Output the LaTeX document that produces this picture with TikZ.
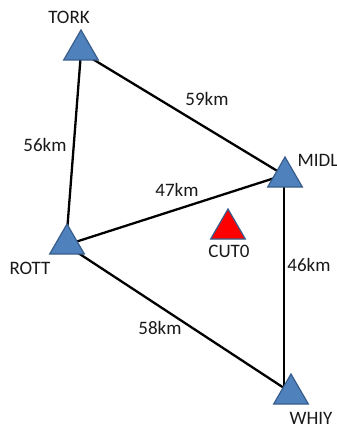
\documentclass[tikz,border=0pt]{standalone}
\usepackage{fontspec}
\setmainfont{Carlito}
\usetikzlibrary{shapes.geometric,backgrounds}
\definecolor{stnfill}{HTML}{4F81BD}
\definecolor{stnedge}{HTML}{385D8A}
\tikzset{
  station/.style={regular polygon, regular polygon sides=3, minimum size=40pt,
    inner sep=0pt, fill=stnfill, draw=stnedge, line width=1.2pt},
  target/.style={station, fill=red},
  baseline/.style={line width=2.3pt, black},
  lbl/.style={font=\fontsize{19}{21}\selectfont, inner sep=0pt, text=black!90}
}
\begin{document}
\begin{tikzpicture}[x=1pt, y=-1pt]
  \useasboundingbox (0,0) rectangle (337,428);
  % stations
  \node[station] (TORK) at (81,50) {};
  \node[station] (ROTT) at (67,244) {};
  \node[station] (MIDL) at (285,177) {};
  \node[station] (WHIY) at (291,394) {};
  \node[target]  (CUT0) at (228,229) {};
  % where the baselines meet each station
  \coordinate (tk) at ([shift={(0,2)}]TORK.center);
  \coordinate (rt) at ([shift={(-1,1)}]ROTT.center);
  \coordinate (md) at ([shift={(-1,-2)}]MIDL.center);
  \coordinate (wh) at ([shift={(-7,-6)}]WHIY.center);
  % baselines
  \begin{scope}[on background layer]
    \draw[baseline] (tk) -- (rt);
    \draw[baseline] (tk) -- (md);
    \draw[baseline] (rt) -- (md);
    \draw[baseline] (md) -- (wh);
    \draw[baseline] (rt) -- (wh);
  \end{scope}
  % station names
  \node[lbl] (nTORK) at (69,17) {TORK};
  \node[lbl] (nMIDL) at (318,160) {MIDL};
  \node[lbl] (nROTT) at (30,268) {ROTT};
  \node[lbl] (nCUT0) at (229,251) {CUT0};
  \node[lbl] (nWHIY) at (311,418) {WHIY};
  % baseline lengths
  \node[lbl] (d59) at (207,99) {59km};
  \node[lbl] (d56) at (45,145) {56km};
  \node[lbl] (d47) at (177,190) {47km};
  \node[lbl] (d46) at (309,265) {46km};
  \node[lbl] (d58) at (160,328) {58km};
\end{tikzpicture}
\end{document}
